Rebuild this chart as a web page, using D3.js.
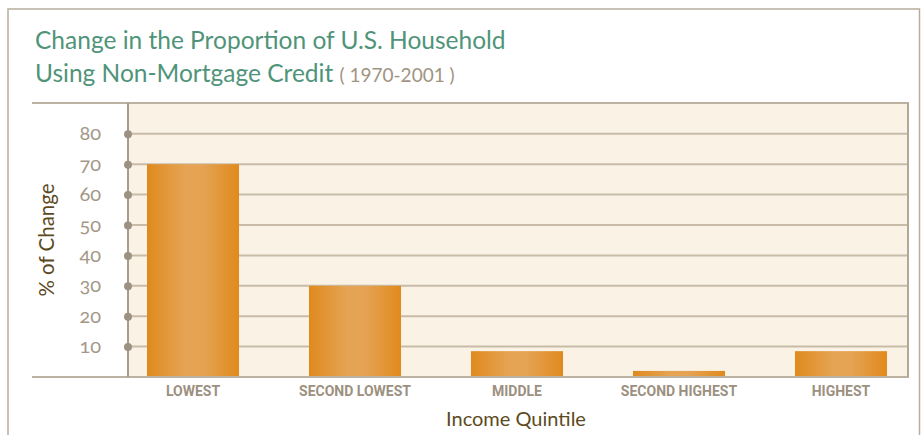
<!DOCTYPE html>
<html>
<head>
<meta charset="utf-8">
<script src="https://cdn.jsdelivr.net/npm/d3@7"></script>
<style>
	body { margin: 0; background: #ffffff; }
	svg { display: block; }
	.title { font-family: Lato, "Open Sans", sans-serif; fill: #4f9479; }
	.years { font-family: Lato, "Open Sans", sans-serif; fill: #a09482; }
	.yax .tick text { font-family: Lato, "DejaVu Serif", serif; font-variant-numeric: oldstyle-nums; fill: #a39888; }
	.xax .tick text { font-family: Roboto, "Open Sans", sans-serif; font-weight: 700; fill: #9c9080; }
	.axTitle { font-family: Lato, "Open Sans", sans-serif; fill: #5c4a1e; }
</style>
</head>
<body>
<div id="chart"></div>
<script>
// data
var categories = ["LOWEST", "SECOND LOWEST", "MIDDLE", "SECOND HIGHEST", "HIGHEST"];
var pctChange = [70, 30, 8.5, 2, 8.5];
var yTicks = [10, 20, 30, 40, 50, 60, 70, 80];

var width = 924, height = 435;

// plot frame (pixels)
var plotLeft = 128, plotRight = 908, plotTop = 103, plotBottom = 377;
var frameLeft = 32;

var svg = d3.select("#chart").append("svg")
	.attr("width", width)
	.attr("height", height);

// bar gradient, lighter in the middle
var grad = svg.append("defs").append("linearGradient")
	.attr("id", "barGrad")
	.attr("x1", "0%").attr("x2", "100%")
	.attr("y1", "0%").attr("y2", "0%");
grad.append("stop").attr("offset", "0%").attr("stop-color", "#e08a1d");
grad.append("stop").attr("offset", "42%").attr("stop-color", "#e5a455");
grad.append("stop").attr("offset", "62%").attr("stop-color", "#e5a252");
grad.append("stop").attr("offset", "100%").attr("stop-color", "#e08a1d");

// outer border (open at the bottom of the window)
svg.append("path")
	.attr("d", "M8," + height + "V9H919.5V" + height)
	.attr("fill", "none")
	.attr("stroke", "#b7ad9e")
	.attr("stroke-width", 1.5);

// titles
var title = svg.append("text").attr("class", "title")
	.attr("x", 35).attr("y", 49)
	.style("font-size", "24.5px");
title.text("Change in the Proportion of U.S. Household");

var title2 = svg.append("text").attr("class", "title")
	.attr("x", 35).attr("y", 82)
	.style("font-size", "24.5px");
title2.append("tspan").text("Using Non-Mortgage Credit ");
title2.append("tspan").attr("class", "years").style("font-size", "19px").text("( 1970-2001 )");

var x = d3.scaleBand()
	.domain(categories)
	.range([147, 887])
	.paddingInner(0.432)
	.paddingOuter(0);

var y = d3.scaleLinear()
	.domain([0, 90])
	.range([plotBottom, plotBottom - 90 * 3.04]);

// plot background
svg.append("rect")
	.attr("x", plotLeft)
	.attr("y", plotTop)
	.attr("width", plotRight - plotLeft)
	.attr("height", plotBottom - plotTop)
	.attr("fill", "#f9f2e5");

// grid lines
svg.append("g")
	.selectAll("line")
	.data(yTicks).enter().append("line")
	.attr("x1", plotLeft)
	.attr("x2", plotRight)
	.attr("y1", function (d) { return y(d); })
	.attr("y2", function (d) { return y(d); })
	.attr("stroke", "#c8bca9")
	.attr("stroke-width", 2);

// bars
svg.append("g")
	.selectAll("rect")
	.data(pctChange).enter().append("rect")
	.attr("x", function (d, i) { return x(categories[i]); })
	.attr("width", x.bandwidth())
	.attr("y", function (d) { return y(d); })
	.attr("height", function (d) { return y(0) - y(d); })
	.attr("fill", "url(#barGrad)");

// frame lines
var frame = svg.append("g")
	.attr("stroke", "#bdb2a2")
	.attr("stroke-width", 2)
	.attr("fill", "none");
frame.append("line")
	.attr("x1", frameLeft).attr("x2", plotRight + 1)
	.attr("y1", plotTop).attr("y2", plotTop);
frame.append("line")
	.attr("x1", frameLeft).attr("x2", plotRight + 1)
	.attr("y1", plotBottom).attr("y2", plotBottom);
frame.append("line")
	.attr("x1", plotRight).attr("x2", plotRight)
	.attr("y1", plotTop).attr("y2", plotBottom)
	.attr("stroke", "#b3a897");

// y axis
var yAxis = d3.axisLeft(y)
	.tickValues(yTicks)
	.tickSize(0)
	.tickPadding(27);

var yG = svg.append("g")
	.attr("class", "yax")
	.attr("transform", "translate(" + plotLeft + ",0)")
	.call(yAxis);
yG.select(".domain")
	.attr("d", "M0," + plotTop + "V" + plotBottom)
	.attr("stroke", "#a79b8b")
	.attr("stroke-width", 2);
yG.selectAll(".tick text")
	.attr("font-size", null)
	.style("font-size", "20px")
	.attr("dy", "0.3em");
yG.selectAll(".tick").append("circle")
	.attr("r", 4)
	.attr("fill", "#9d9182");

// category labels
var xAxis = d3.axisBottom(x).tickSize(0).tickPadding(9);
var xG = svg.append("g")
	.attr("class", "xax")
	.attr("transform", "translate(0," + plotBottom + ")")
	.call(xAxis);
xG.select(".domain").remove();
xG.selectAll(".tick text")
	.style("font-size", "14px");

// axis titles
svg.append("text").attr("class", "axTitle")
	.attr("x", 516).attr("y", 426)
	.attr("text-anchor", "middle")
	.style("font-size", "20px")
	.text("Income Quintile");

svg.append("text").attr("class", "axTitle")
	.attr("transform", "translate(54,240) rotate(-90)")
	.attr("text-anchor", "middle")
	.style("font-size", "20.5px")
	.text("% of Change");
</script>
</body>
</html>
